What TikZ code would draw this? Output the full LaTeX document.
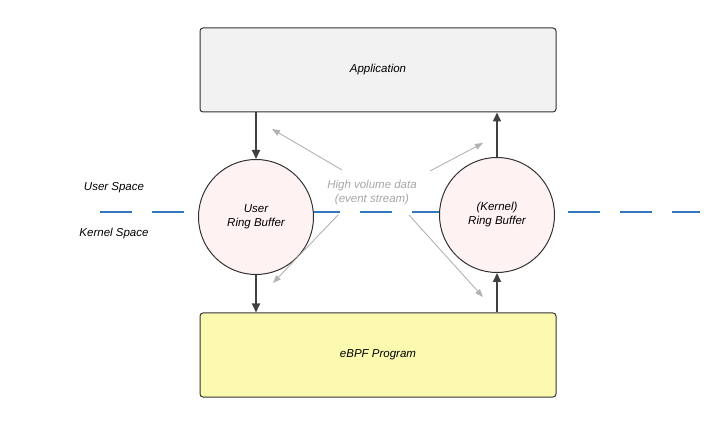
\documentclass[tikz,border=0pt]{standalone}
\usepackage{fontspec}
\setmainfont{Liberation Sans}
\usetikzlibrary{arrows.meta}
\begin{document}
\begin{tikzpicture}[x=1pt,y=-1pt,
  fnt/.style={font=\itshape\fontsize{11.5}{14}\selectfont},
  box/.style={fnt,draw=black!80,line width=1pt,rounded corners=3pt,minimum width=356pt,minimum height=84pt},
  buf/.style={fnt,circle,draw=black!80,line width=1pt,fill=pink!20,minimum size=115pt,align=center},
  main/.style={-{Triangle[length=9pt,width=8pt]},line width=1.8pt,draw=black!75},
  data/.style={-{Triangle[length=8pt,width=6pt]},line width=0.9pt,draw=black!30},
  lbl/.style={fnt}]
\useasboundingbox (0,0) rectangle (720,427);
\draw[line width=2.2pt,draw={rgb,255:red,50;green,120;blue,190},dash pattern=on 32pt off 20pt] (100,212) -- (700,212);
\node[box,fill=black!5] (app) at (378,70) {Application};
\node[box,fill={rgb,255:red,252;green,250;blue,175}] (ebpf) at (378,355) {eBPF Program};
\node[buf] (ub) at (256,217) {User\\Ring Buffer};
\node[buf] (kb) at (497,215) {(Kernel)\\Ring Buffer};
\node[lbl] (us) at (114,188) {User Space};
\node[lbl] (ks) at (114,234) {Kernel Space};
\node[lbl,text=black!35,align=center] (hv) at (372,193) {High volume data\\(event stream)};
\draw[main] (ub.north |- app.south) -- (ub.north);
\draw[main] (ub.south) -- (ub.south |- ebpf.north);
\draw[main] (kb.south |- ebpf.north) -- (kb.south);
\draw[main] (kb.north) -- (kb.north |- app.south);
\coordinate (a1) at (342,170); \coordinate (b1) at (272,129);
\coordinate (a2) at (430,171); \coordinate (b2) at (483,143);
\coordinate (a3) at (338,215); \coordinate (b3) at (273,283);
\coordinate (a4) at (409,215); \coordinate (b4) at (483,297);
\draw[data] (a1) -- (b1);
\draw[data] (a2) -- (b2);
\draw[data] (a3) -- (b3);
\draw[data] (a4) -- (b4);
\end{tikzpicture}
\end{document}
